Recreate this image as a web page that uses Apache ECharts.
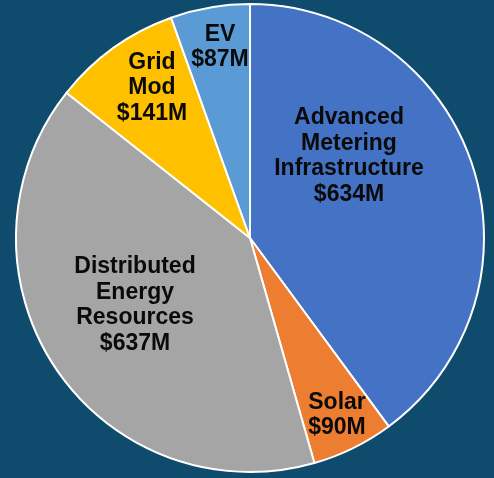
<!DOCTYPE html>
<html>
<head>
<meta charset="utf-8">
<script src="https://cdn.jsdelivr.net/npm/echarts@6/dist/echarts.min.js"></script>
<style>
html,body{margin:0;padding:0;background:#0e4b6c;}
#chart{width:494px;height:478px;}
</style>
</head>
<body>
<div id="chart"></div>
<script>
var categories = ['Advanced\nMetering\nInfrastructure', 'Solar', 'Distributed\nEnergy\nResources', 'Grid\nMod', 'EV'];
var values = [634, 90, 637, 141, 87];
var colors = ['#4472C4', '#ED7D31', '#A5A5A5', '#FFC000', '#5B9BD5'];

var labelPos = [[349, 156], [337, 415], [135, 305], [152, 88], [220, 47]];

var chart = echarts.init(document.getElementById('chart'));
chart.setOption({
  backgroundColor: '#0e4b6c',
  animation: false,
  series: [{
    type: 'pie',
    center: [250, 238],
    radius: [0, 234],
    startAngle: 90,
    clockwise: true,
    data: categories.map(function (c, i) {
      return { name: c, value: values[i], itemStyle: { color: colors[i] } };
    }),
    itemStyle: { borderColor: '#ffffff', borderWidth: 2 },
    label: {
      show: true,
      position: 'inside',
      formatter: function (p) { return p.name + '\n$' + p.value + 'M'; },
      color: '#0a0a0a',
      fontFamily: 'Liberation Sans, Arial, sans-serif',
      fontWeight: 'bold',
      fontSize: 23,
      lineHeight: 25.5,
      align: 'center'
    },
    labelLine: { show: false },
    labelLayout: function (params) {
      var p = labelPos[params.dataIndex];
      return { x: p[0], y: p[1], align: 'center', verticalAlign: 'middle' };
    }
  }]
});
</script>
</body>
</html>
